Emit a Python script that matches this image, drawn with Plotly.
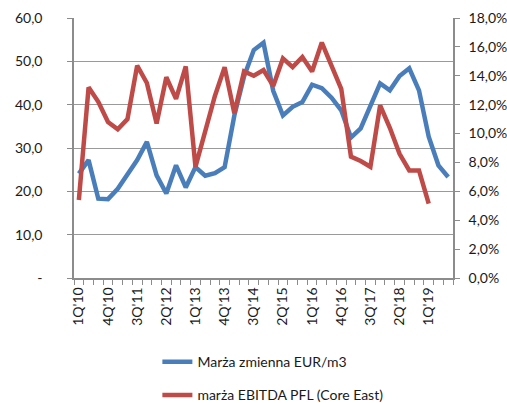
import plotly.graph_objects as go

quarters = ["1Q'10", "2Q'10", "3Q'10", "4Q'10",
            "1Q'11", "2Q'11", "3Q'11", "4Q'11",
            "1Q'12", "2Q'12", "3Q'12", "4Q'12",
            "1Q'13", "2Q'13", "3Q'13", "4Q'13",
            "1Q'14", "2Q'14", "3Q'14", "4Q'14",
            "1Q'15", "2Q'15", "3Q'15", "4Q'15",
            "1Q'16", "2Q'16", "3Q'16", "4Q'16",
            "1Q'17", "2Q'17", "3Q'17", "4Q'17",
            "1Q'18", "2Q'18", "3Q'18", "4Q'18",
            "1Q'19", "2Q'19", "3Q'19"]

shown_labels = ["1Q'10", "4Q'10", "3Q'11", "2Q'12", "1Q'13", "4Q'13", "3Q'14",
                "2Q'15", "1Q'16", "4Q'16", "3Q'17", "2Q'18", "1Q'19"]

marza_zmienna = [24.1, 27.2, 18.3, 18.2, 20.6, 24.1, 27.2, 31.4, 23.7, 19.5,
                 26.0, 20.9, 25.6, 23.6, 24.2, 25.6, 37.5, 46.5, 52.6, 54.3,
                 43.2, 37.5, 39.5, 40.6, 44.6, 43.8, 41.6, 38.7, 32.4, 34.5,
                 39.9, 44.9, 43.3, 46.6, 48.4, 43.3, 32.6, 26.0, 23.3]

marza_ebitda = [5.4, 13.2, 12.2, 10.8, 10.3, 11.0, 14.7, 13.5, 10.7, 13.9,
                12.4, 14.65, 7.7, 10.2, 12.6, 14.6, 11.4, 14.3, 14.0, 14.4,
                13.3, 15.2, 14.6, 15.3, 14.3, 16.3, 14.7, 13.1, 8.4, 8.1,
                7.7, 11.95, 10.4, 8.6, 7.45, 7.45, 5.15, None, None]

left_ticks = [0, 10, 20, 30, 40, 50, 60]
left_ticktext = ["-", "10,0", "20,0", "30,0", "40,0", "50,0", "60,0"]
right_ticks = [0, 2, 4, 6, 8, 10, 12, 14, 16, 18]
right_ticktext = ["0,0%", "2,0%", "4,0%", "6,0%", "8,0%", "10,0%",
                  "12,0%", "14,0%", "16,0%", "18,0%"]

BLUE = "#4a7ebb"
RED = "#be4b48"
AXIS = "#8c8c8c"
GRID = "#9a9a9a"
TXT = "#1a1a1a"

fig = go.Figure()
fig.add_trace(go.Scatter(x=quarters, y=marza_zmienna, mode="lines",
                         name="Marża zmienna EUR/m3", legendgroup="a",
                         line=dict(color=BLUE, width=4.5)))
fig.add_trace(go.Scatter(x=quarters, y=marza_ebitda, mode="lines",
                         name="marża EBITDA PFL (Core East)", legendgroup="b",
                         line=dict(color=RED, width=4.5), yaxis="y2"))

fig.update_layout(
    width=507, height=403,
    margin=dict(l=74, r=54, t=18, b=125, autoexpand=False),
    paper_bgcolor="white", plot_bgcolor="white",
    font=dict(family="Lato", size=14, color=TXT),
    showlegend=True,
    legend=dict(orientation="v", x=0.22, y=-0.262, xanchor="left", yanchor="top",
                traceorder="grouped", tracegroupgap=12,
                font=dict(family="Lato", size=14, color=TXT)),
    xaxis=dict(type="category", range=[-0.5, 38.5],
               tickvals=quarters,
               ticktext=[q if q in shown_labels else "" for q in quarters],
               tickson="boundaries", ticks="outside", ticklen=5,
               tickcolor=AXIS, tickwidth=1,
               showline=True, linecolor=AXIS, linewidth=1.5,
               tickangle=-90, showgrid=False, automargin=False,
               ticklabelstandoff=2,
               tickfont=dict(size=14)),
    yaxis=dict(range=[0, 60], tickvals=left_ticks, ticktext=left_ticktext,
               showgrid=True, gridcolor=GRID, gridwidth=1,
               showline=True, linecolor=AXIS, linewidth=1.5,
               ticks="outside", ticklen=5, tickcolor=AXIS, automargin=False,
               zeroline=False, ticklabelstandoff=22),
    yaxis2=dict(range=[0, 18], tickvals=right_ticks, ticktext=right_ticktext,
                overlaying="y", side="right", showgrid=False,
                showline=True, linecolor=AXIS, linewidth=1.5,
                ticks="outside", ticklen=5, tickcolor=AXIS, automargin=False,
                zeroline=False, ticklabelstandoff=6),
)

fig.write_html("out.html", config={"displayModeBar": False},
               post_script="document.body.style.margin='0';")
